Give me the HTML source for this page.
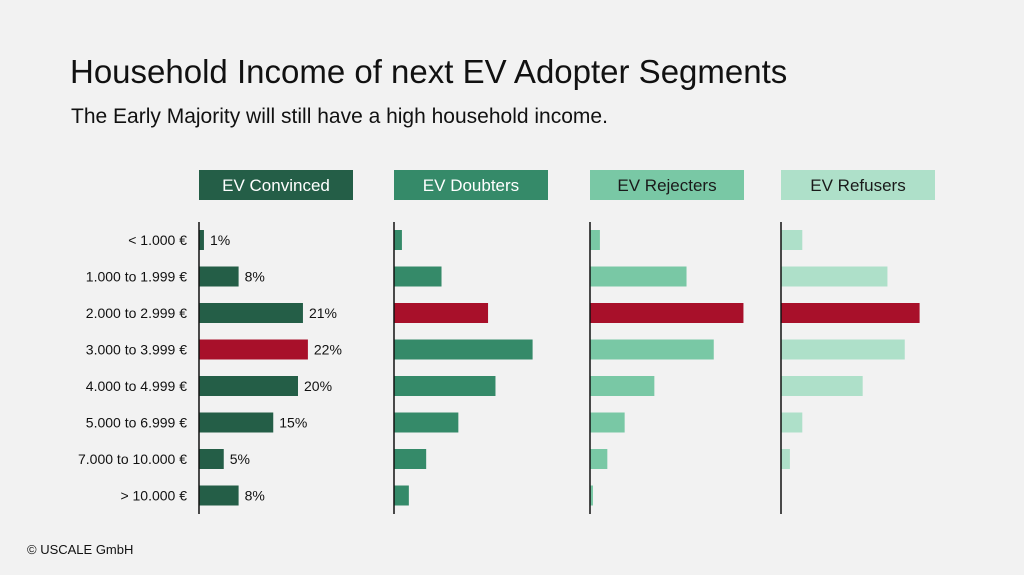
<!DOCTYPE html>
<html><head><meta charset="utf-8"><style>
body{margin:0;background:#f2f2f2;}
#c{position:relative;width:1024px;height:575px;background:#f2f2f2;font-family:"Liberation Sans",sans-serif;overflow:hidden}
</style></head><body>
<div id="c">
<svg id="s" width="1024" height="575">
<text x="70" y="83" font-size="33" fill="#111">Household Income of next EV Adopter Segments</text>
<text x="71" y="123" font-size="21" fill="#111">The Early Majority will still have a high household income.</text>
<text x="27" y="554" font-size="13" fill="#111">© USCALE GmbH</text>
<g id="g"></g>
</svg>
</div>
<script>
const categories=["< 1.000 €","1.000 to 1.999 €","2.000 to 2.999 €","3.000 to 3.999 €","4.000 to 4.999 €","5.000 to 6.999 €","7.000 to 10.000 €","> 10.000 €"];
const segments=["EV Convinced","EV Doubters","EV Rejecters","EV Refusers"];
const convinced=[1,8,21,22,20,15,5,8];
const doubters=[1.6,9.6,19,28,20.5,13,6.5,3];
const rejecters=[2,19.5,31,25,13,7,3.5,0.6];
const refusers=[4.3,21.5,28,25,16.5,4.3,1.8,0];
const highlight=[3,2,2,2];
const showLabels=[true,false,false,false];
const series=[convinced,doubters,rejecters,refusers];
const colors=["#245e47","#358a69","#79c8a5","#aee0c9"];
const textCol=["#fff","#fff","#1a1a1a","#1a1a1a"];
const axisX=[199,394,590,781];
const pxPerPct=4.95;
const rowY=i=>240+i*36.5;
const xs=(p,v)=>axisX[p]+v*pxPerPct;
const ns="http://www.w3.org/2000/svg";
const g=document.getElementById('g');
function mk(t,a){const e=document.createElementNS(ns,t);for(const k in a)e.setAttribute(k,a[k]);g.appendChild(e);return e;}
categories.forEach((c,i)=>{
 const t=mk('text',{x:187,y:rowY(i)+5,'font-size':14,'text-anchor':'end',fill:'#111'});
 t.textContent=c;
 
 
});
segments.forEach((s,p)=>{
 const h=mk('rect',{x:axisX[p],y:170,width:154,height:30,fill:colors[p]});
 
 
 const ht=mk('text',{x:axisX[p]+77,y:191,'font-size':17,'text-anchor':'middle',fill:textCol[p]});
 ht.textContent=s;
 
 
 series[p].forEach((v,i)=>{
  const r=mk('rect',{x:axisX[p],y:rowY(i)-10,width:Math.max(0,xs(p,v)-axisX[p]),height:20,fill:i===highlight[p]?'#a8102a':colors[p]});
  
  
  if(showLabels[p]){
   const l=mk('text',{x:xs(p,v)+6,y:rowY(i)+5,'font-size':14,fill:'#111'});
   l.textContent=Math.round(v)+'%';
   
   
  }
 });
 const ax=mk('line',{x1:axisX[p],x2:axisX[p],y1:222,y2:514,stroke:'#111','stroke-width':1.5});
 
 
});
</script>
</body></html>
